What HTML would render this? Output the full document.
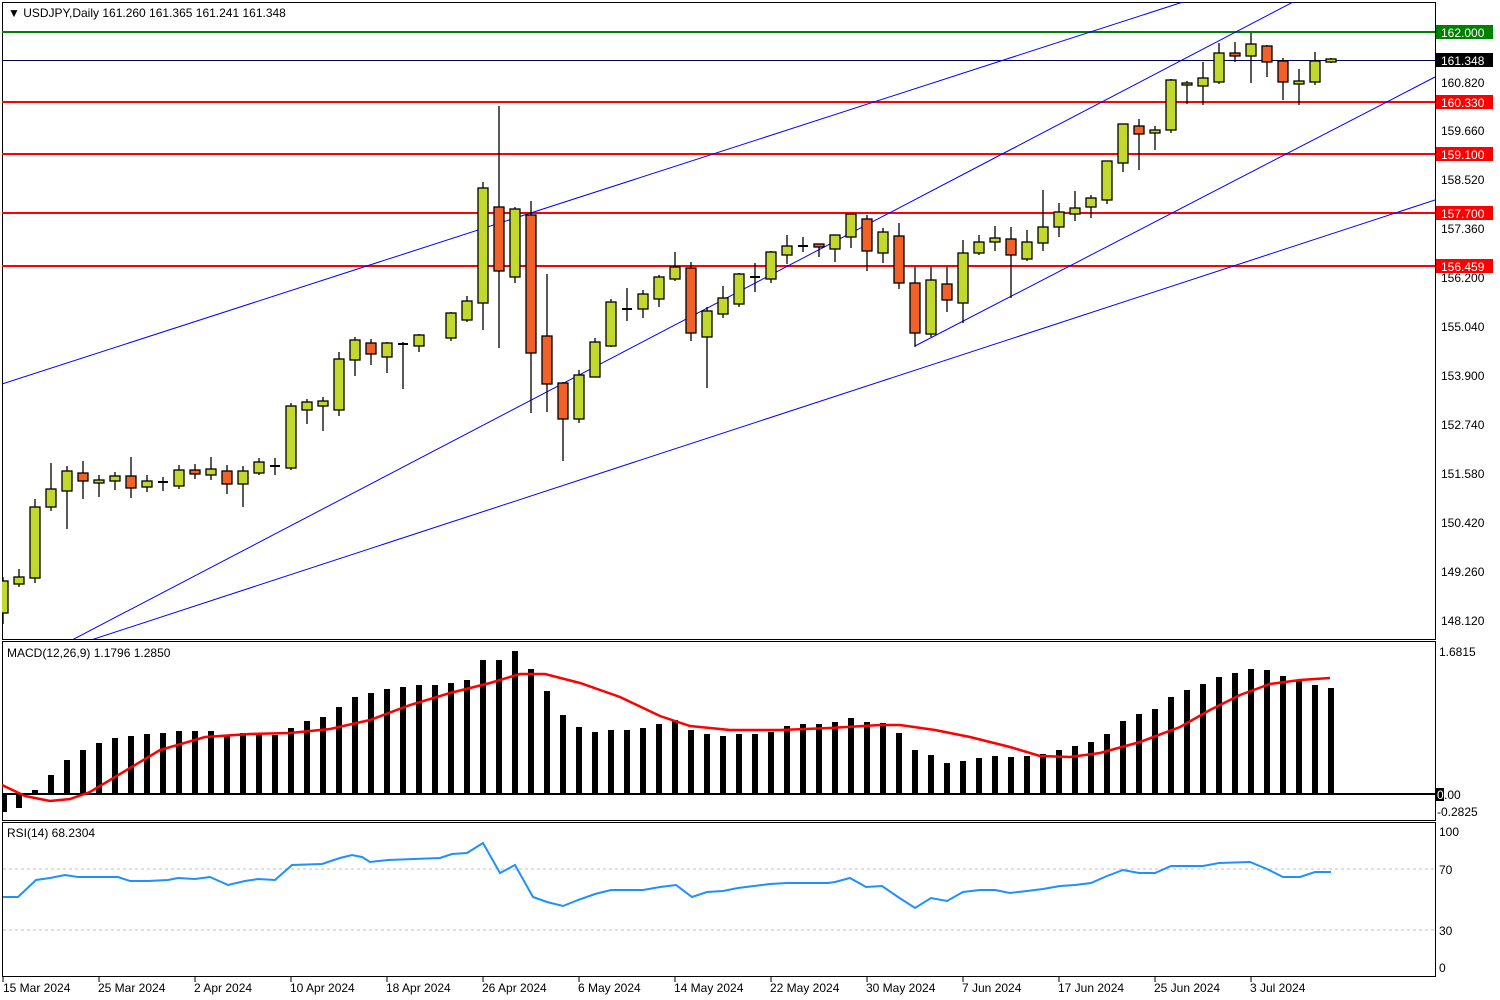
<!DOCTYPE html>
<html><head><meta charset="utf-8"><style>
html,body{margin:0;padding:0;background:#fff;}
svg{display:block;}
text{font-family:"Liberation Sans",sans-serif;font-size:12px;fill:#000;}
</style></head><body>
<svg width="1500" height="1000" viewBox="0 0 1500 1000" xmlns="http://www.w3.org/2000/svg">
<rect width="1500" height="1000" fill="#fff"/>
<defs><clipPath id="cm"><rect x="2" y="2" width="1433" height="637"/></clipPath>
<clipPath id="cd"><rect x="2" y="642" width="1433" height="178"/></clipPath></defs>

<rect x="2.5" y="2.5" width="1433" height="637" fill="none" stroke="#000"/>
<g clip-path="url(#cm)">
<line x1="2" y1="32" x2="1435" y2="32" stroke="#008000" stroke-width="2"/>
<line x1="2" y1="60.5" x2="1435" y2="60.5" stroke="#000050" stroke-width="1"/>
<line x1="2" y1="102" x2="1435" y2="102" stroke="#ff0000" stroke-width="2"/>
<line x1="2" y1="154" x2="1435" y2="154" stroke="#ff0000" stroke-width="2"/>
<line x1="2" y1="213" x2="1435" y2="213" stroke="#ff0000" stroke-width="2"/>
<line x1="2" y1="266" x2="1435" y2="266" stroke="#ff0000" stroke-width="2"/>
<g stroke="#0000ff" stroke-width="1" fill="none">
<line x1="2" y1="384" x2="1183" y2="2"/>
<line x1="72" y1="640" x2="1295" y2="1"/>
<line x1="915" y1="346" x2="1435" y2="77"/>
<line x1="91" y1="640" x2="1435" y2="200"/>
</g>
<g stroke="#000" stroke-width="1.3">
<path d="M3 577V624M19 569V587M35 499V583M51 463V511M67 466V529M83 461V499M99 475V497M115 472V490M131 457V498M147 475V492M163 477V491M179 465V489M195 464V479M211 457V480M227 465V494M243 466V507M259 458V475M275 458V475M291 403V470M307 399V424M323 397V431M339 352V416M355 337V376M371 339V365M387 342V373M403 342V389M419 334V352M451 312V341M467 296V322M483 182V330M499 106V348M515 207V283M531 201V413M547 274V412M563 382V461M579 370V423M595 338V377M611 299V347M627 288V321M643 290V318M659 275V307M675 252V281M691 262V341M707 307V388M723 286V318M739 273V307M755 263V292M771 251V283M787 235V264M803 237V252M819 244V257M835 235V262M851 214V248M867 215V271M883 228V263M899 223V289M915 267V347M931 267V337M947 267V312M963 240V323M979 235V255M995 226V251M1011 227V298M1027 230V261M1043 190V251M1059 203V237M1075 191V221M1091 195V218M1107 161V204M1123 124V172M1139 119V170M1155 126V150M1171 79V133M1187 81V104M1203 62V105M1219 43V84M1235 42V62M1251 33V83M1267 45V77M1283 58V100M1299 69V105M1315 52V85M1331 58V63"/>
<path d="M158 482H168M398 344H408M622 309H632M750 277H760M798 246H808M270 466H280" stroke-width="2"/>
</g>
<g stroke="#000" stroke-width="1.3" fill="#c2d82f">
<rect x="-2" y="581" width="10" height="32"/>
<rect x="14" y="577" width="10" height="7"/>
<rect x="30" y="507" width="10" height="71"/>
<rect x="46" y="489" width="10" height="18"/>
<rect x="62" y="471" width="10" height="20"/>
<rect x="94" y="480" width="10" height="3"/>
<rect x="110" y="476" width="10" height="5"/>
<rect x="142" y="481" width="10" height="6"/>
<rect x="174" y="470" width="10" height="16"/>
<rect x="206" y="469" width="10" height="6"/>
<rect x="238" y="471" width="10" height="13"/>
<rect x="254" y="462" width="10" height="11"/>
<rect x="286" y="406" width="10" height="62"/>
<rect x="302" y="402" width="10" height="8"/>
<rect x="318" y="401" width="10" height="5"/>
<rect x="334" y="359" width="10" height="51"/>
<rect x="350" y="340" width="10" height="20"/>
<rect x="382" y="343" width="10" height="14"/>
<rect x="414" y="335" width="10" height="11"/>
<rect x="446" y="313" width="10" height="25"/>
<rect x="462" y="301" width="10" height="19"/>
<rect x="478" y="188" width="10" height="115"/>
<rect x="510" y="209" width="10" height="68"/>
<rect x="574" y="375" width="10" height="44"/>
<rect x="590" y="342" width="10" height="35"/>
<rect x="606" y="302" width="10" height="44"/>
<rect x="638" y="294" width="10" height="15"/>
<rect x="654" y="277" width="10" height="22"/>
<rect x="670" y="267" width="10" height="12"/>
<rect x="702" y="311" width="10" height="26"/>
<rect x="718" y="298" width="10" height="16"/>
<rect x="734" y="274" width="10" height="30"/>
<rect x="766" y="252" width="10" height="27"/>
<rect x="782" y="246" width="10" height="9"/>
<rect x="830" y="235" width="10" height="14"/>
<rect x="846" y="214" width="10" height="23"/>
<rect x="878" y="232" width="10" height="21"/>
<rect x="926" y="280" width="10" height="54"/>
<rect x="958" y="253" width="10" height="50"/>
<rect x="974" y="242" width="10" height="11"/>
<rect x="990" y="238" width="10" height="4"/>
<rect x="1022" y="242" width="10" height="17"/>
<rect x="1038" y="227" width="10" height="16"/>
<rect x="1054" y="212" width="10" height="15"/>
<rect x="1070" y="208" width="10" height="6"/>
<rect x="1086" y="198" width="10" height="9"/>
<rect x="1102" y="161" width="10" height="39"/>
<rect x="1118" y="124" width="10" height="39"/>
<rect x="1150" y="130" width="10" height="3"/>
<rect x="1166" y="80" width="10" height="50"/>
<rect x="1182" y="83" width="10" height="2"/>
<rect x="1198" y="78" width="10" height="8"/>
<rect x="1214" y="53" width="10" height="29"/>
<rect x="1246" y="44" width="10" height="12"/>
<rect x="1294" y="81" width="10" height="3"/>
<rect x="1310" y="61" width="10" height="21"/>
<rect x="1326" y="59" width="10" height="3"/>
</g>
<g stroke="#000" stroke-width="1.3" fill="#f0622a">
<rect x="78" y="473" width="10" height="8"/>
<rect x="126" y="476" width="10" height="12"/>
<rect x="190" y="470" width="10" height="4"/>
<rect x="222" y="471" width="10" height="13"/>
<rect x="366" y="343" width="10" height="11"/>
<rect x="494" y="207" width="10" height="64"/>
<rect x="526" y="215" width="10" height="138"/>
<rect x="542" y="336" width="10" height="48"/>
<rect x="558" y="383" width="10" height="36"/>
<rect x="686" y="268" width="10" height="65"/>
<rect x="814" y="244" width="10" height="3"/>
<rect x="862" y="219" width="10" height="32"/>
<rect x="894" y="236" width="10" height="47"/>
<rect x="910" y="283" width="10" height="50"/>
<rect x="942" y="284" width="10" height="16"/>
<rect x="1006" y="239" width="10" height="16"/>
<rect x="1134" y="126" width="10" height="8"/>
<rect x="1230" y="53" width="10" height="3"/>
<rect x="1262" y="46" width="10" height="16"/>
<rect x="1278" y="61" width="10" height="21"/>
</g>
</g>
<text x="8" y="17">&#9660; USDJPY,Daily  161.260 161.365 161.241 161.348</text>

<g>
<text x="1441" y="87">160.820</text>
<text x="1441" y="135">159.660</text>
<text x="1441" y="184">158.520</text>
<text x="1441" y="233">157.360</text>
<text x="1441" y="282">156.200</text>
<text x="1441" y="331">155.040</text>
<text x="1441" y="380">153.900</text>
<text x="1441" y="429">152.740</text>
<text x="1441" y="478">151.580</text>
<text x="1441" y="527">150.420</text>
<text x="1441" y="576">149.260</text>
<text x="1441" y="625">148.120</text>
<rect x="1436" y="25" width="57" height="14" fill="#008000"/><text x="1441" y="37" style="fill:#fff">162.000</text>
<rect x="1436" y="53" width="57" height="14" fill="#000"/><text x="1441" y="65" style="fill:#fff">161.348</text>
<rect x="1436" y="95" width="57" height="14" fill="#ff0000"/><text x="1441" y="107" style="fill:#fff">160.330</text>
<rect x="1436" y="147" width="57" height="14" fill="#ff0000"/><text x="1441" y="159" style="fill:#fff">159.100</text>
<rect x="1436" y="206" width="57" height="14" fill="#ff0000"/><text x="1441" y="218" style="fill:#fff">157.700</text>
<rect x="1436" y="259" width="57" height="14" fill="#ff0000"/><text x="1441" y="271" style="fill:#fff">156.459</text>
</g>

<rect x="2.5" y="641.5" width="1433" height="179" fill="none" stroke="#000"/>
<g clip-path="url(#cd)">
<g stroke="#000" stroke-width="6">
<path d="M4 794V812M19 794V808M35 794V790M51 794V775M67 794V760M83 794V750M99 794V743M115 794V738M131 794V736M147 794V734M163 794V733M179 794V731M195 794V731M211 794V731M227 794V736M243 794V733M259 794V733M275 794V735M291 794V728M307 794V721M323 794V717M339 794V707M355 794V697M371 794V693M387 794V689M403 794V687M419 794V685M435 794V685M451 794V683M467 794V680M483 794V660M499 794V660M515 794V651M531 794V669M547 794V691M563 794V715M579 794V727M595 794V732M611 794V730M627 794V730M643 794V728M659 794V724M675 794V720M691 794V730M707 794V734M723 794V736M739 794V734M755 794V734M771 794V732M787 794V726M803 794V724M819 794V724M835 794V722M851 794V718M867 794V722M883 794V723M899 794V733M915 794V750M931 794V755M947 794V763M963 794V761M979 794V758M995 794V756M1011 794V757M1027 794V756M1043 794V754M1059 794V750M1075 794V746M1091 794V742M1107 794V734M1123 794V721M1139 794V714M1155 794V709M1171 794V697M1187 794V690M1203 794V684M1219 794V677M1235 794V673M1251 794V669M1267 794V670M1283 794V676M1299 794V680M1315 794V685M1331 794V688"/>
</g>
<line x1="2" y1="794" x2="1435" y2="794" stroke="#000" stroke-width="2"/>
<polyline fill="none" stroke="#ff0000" stroke-width="2.5" points="2,785 25,796 50,801 70,799 90,792 130,768 160,750 205,737 250,734 290,733 330,729 370,720 410,705 450,693 490,683 520,674 545,674 580,683 620,697 660,716 690,726 700,727 730,730 780,730 830,728 880,725 900,725 935,730 970,737 1010,747 1040,756 1070,757 1100,753 1140,742 1180,727 1210,710 1240,695 1270,684 1300,680 1330,678"/>
</g>
<text x="7" y="657">MACD(12,26,9) 1.1796 1.2850</text>
<text x="1439" y="656">1.6815</text>
<rect x="1436" y="788" width="8" height="13" fill="#000"/>
<text x="1437" y="799" style="fill:#fff">0</text>
<text x="1444" y="799">.00</text>
<text x="1437" y="816">-0.2825</text>

<rect x="2.5" y="822.5" width="1433" height="154" fill="none" stroke="#000"/>
<line x1="3" y1="869" x2="1435" y2="869" stroke="#c0c0c0" stroke-dasharray="3,3"/>
<line x1="3" y1="930" x2="1435" y2="930" stroke="#c0c0c0" stroke-dasharray="3,3"/>
<polyline fill="none" stroke="#1e90ff" stroke-width="2" points="3,897 18,897 36,880 50,878 65,875 78,877 118,877 130,881 148,881 168,880 178,878 195,879 210,877 228,885 245,881 258,879 275,880 292,865 322,864 340,858 352,855 362,857 370,862 388,860 440,858 452,854 467,853 483,843 500,873 515,865 533,897 547,902 563,906 578,900 595,894 611,890 643,890 660,887 676,885 692,897 707,892 723,891 738,888 770,884 787,883 828,883 835,882 850,878 866,887 882,886 898,897 915,908 931,898 947,901 963,892 980,890 995,890 1010,893 1027,891 1043,889 1060,886 1075,885 1091,883 1107,876 1123,870 1139,873 1155,873 1171,866 1203,866 1219,863 1250,862 1267,869 1283,877 1300,877 1315,872 1331,872"/>
<text x="7" y="837">RSI(14) 68.2304</text>
<text x="1439" y="836">100</text>
<text x="1439" y="874">70</text>
<text x="1439" y="935">30</text>
<text x="1439" y="972">0</text>

<g stroke="#000"><path d="M3 977V982M99 977V982M195 977V982M291 977V982M387 977V982M483 977V982M579 977V982M675 977V982M771 977V982M867 977V982M963 977V982M1059 977V982M1155 977V982M1251 977V982"/></g>
<text x="3" y="992">15 Mar 2024</text>
<text x="98" y="992">25 Mar 2024</text>
<text x="194" y="992">2 Apr 2024</text>
<text x="290" y="992">10 Apr 2024</text>
<text x="386" y="992">18 Apr 2024</text>
<text x="482" y="992">26 Apr 2024</text>
<text x="578" y="992">6 May 2024</text>
<text x="674" y="992">14 May 2024</text>
<text x="770" y="992">22 May 2024</text>
<text x="866" y="992">30 May 2024</text>
<text x="962" y="992">7 Jun 2024</text>
<text x="1058" y="992">17 Jun 2024</text>
<text x="1154" y="992">25 Jun 2024</text>
<text x="1250" y="992">3 Jul 2024</text>
</svg>
</body></html>
